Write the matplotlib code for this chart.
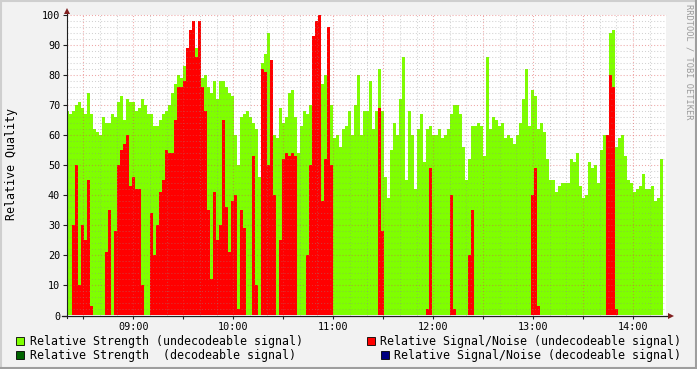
import matplotlib
matplotlib.use('Agg')
import matplotlib.pyplot as plt
from matplotlib.patches import Rectangle

plt.rcParams['font.family'] = 'DejaVu Sans Mono'
plt.rcParams['lines.scale_dashes'] = False

# samples: first one at 08:19:48, one every 1.8 minutes
start_min = 8 * 60 + 19.8
step_min = 1.8

strength = [
    68, 67, 68, 70, 71, 69, 67, 74, 67, 62, 61, 60, 66, 64, 64, 67, 66, 71, 73, 65,
    72, 71, 71, 68, 69, 72, 70, 67, 67, 63, 63, 65, 67, 68, 70, 74, 77, 80, 79, 83,
    85, 88, 89, 89, 88, 79, 80, 76, 74, 78, 72, 78, 78, 76, 74, 73, 60, 50, 66, 67,
    68, 66, 64, 62, 46, 84, 87, 94, 78, 60, 59, 69, 64, 66, 74, 75, 66, 54, 63, 68,
    67, 70, 78, 80, 80, 77, 80, 75, 70, 59, 60, 56, 62, 63, 68, 60, 70, 80, 60, 68,
    68, 78, 62, 68, 82, 68, 46, 39, 55, 64, 60, 72, 86, 45, 68, 60, 42, 62, 67, 51,
    62, 63, 60, 60, 62, 59, 60, 62, 67, 70, 70, 67, 56, 45, 52, 63, 63, 64, 63, 53,
    86, 62, 66, 65, 63, 64, 59, 60, 59, 57, 60, 64, 72, 82, 63, 75, 73, 62, 64, 61,
    52, 45, 45, 41, 43, 44, 44, 44, 52, 51, 54, 43, 39, 40, 51, 49, 50, 44, 55, 60,
    55, 94, 95, 56, 59, 60, 53, 45, 44, 41, 42, 43, 47, 42, 42, 43, 38, 39, 52,
]
snr = [
    0, 0, 30, 50, 10, 30, 25, 45, 3, 0, 0, 0, 0, 21, 35, 0, 28, 50, 55, 57,
    60, 43, 46, 42, 42, 10, 0, 0, 34, 20, 30, 41, 45, 55, 54, 54, 65, 76, 76, 78,
    89, 95, 98, 86, 98, 76, 68, 35, 12, 41, 25, 30, 65, 36, 21, 38, 40, 2, 35, 29,
    0, 0, 53, 10, 0, 82, 81, 50, 85, 40, 0, 25, 52, 54, 53, 54, 53, 0, 0, 0,
    20, 50, 93, 98, 100, 38, 52, 96, 50, 0, 0, 0, 0, 0, 0, 0, 0, 0, 0, 0,
    0, 0, 0, 0, 69, 28, 0, 0, 0, 0, 0, 0, 0, 0, 0, 0, 0, 0, 0, 0,
    2, 49, 0, 0, 0, 0, 0, 0, 40, 2, 0, 0, 0, 0, 20, 35, 0, 0, 0, 0,
    0, 0, 0, 0, 0, 0, 0, 0, 0, 0, 0, 0, 0, 0, 0, 40, 49, 3, 0, 0,
    0, 0, 0, 0, 0, 0, 0, 0, 0, 0, 0, 0, 0, 0, 0, 0, 0, 0, 0, 0,
    60, 80, 76, 2, 0, 0, 0, 0, 0, 0, 0, 0, 0, 0, 0, 0, 0, 0, 0,
]

hour_ticks = [540, 600, 660, 720, 780, 840]
hour_labels = ['09:00', '10:00', '11:00', '12:00', '13:00', '14:00']

legend_left = [('Relative Strength (undecodeable signal)', '#7fff00'),
               ('Relative Strength  (decodeable signal)', '#006400')]
legend_right = [('Relative Signal/Noise (undecodeable signal)', '#ff0000'),
                ('Relative Signal/Noise (decodeable signal)', '#000080')]

W, H = 697, 369
fig = plt.figure(figsize=(W / 100, H / 100), dpi=100, facecolor='#f2f2f2')
ax = fig.add_axes([66.5 / W, 53.5 / H, 599.5 / W, 300.5 / H])
ax.set_facecolor('white')

edges = [start_min + i * step_min for i in range(len(strength) + 1)]
ax.fill_between(edges, strength + strength[-1:], step='post',
                color='#7fff00', lw=0, zorder=1)
ax.fill_between(edges, snr + snr[-1:], step='post',
                color='#ff0000', lw=0, zorder=2)

ax.set_xlim(start_min, start_min + 360)
ax.set_ylim(0, 100)

# rrdtool style dotted grid, drawn over the data
dots = (0, (0.75, 1.45))
minor_kw = dict(color='#8f8f8f', alpha=0.4, lw=0.75, ls=dots, zorder=3)
major_kw = dict(color='#de5050', alpha=0.5, lw=0.75, ls=dots, zorder=3)
for v in range(2, 101, 2):
    if v % 10 == 0:
        ax.axhline(v, clip_on=False, **major_kw)
    else:
        ax.axhline(v, **minor_kw)
for m in range(510, 860, 10):
    if m % 30 == 0:
        ax.axvline(m, **major_kw)
    else:
        ax.axvline(m, **minor_kw)

for s in ax.spines.values():
    s.set_visible(False)

ax.set_yticks(range(0, 101, 10))
ax.tick_params(axis='y', length=3, width=0.8, color='#1f1f1f', labelsize=7.3, pad=1.5)
half_hours = list(range(510, 860, 30))
ax.set_xticks(half_hours)
ax.set_xticklabels([hour_labels[hour_ticks.index(m)] if m in hour_ticks else '' for m in half_hours])
ax.tick_params(axis='x', length=2.5, width=0.8, color='#1f1f1f', labelsize=7.3, pad=2.5)

# overlay in pixel coordinates for axes lines, legend and frame
ov = fig.add_axes([0, 0, 1, 1])
ov.set_xlim(0, W)
ov.set_ylim(H, 0)
ov.axis('off')
ov.patch.set_visible(False)

ov.plot([66.5, 66.5], [318, 11], color='#1f1f1f', lw=0.8)
ov.plot([62, 668], [315.5, 315.5], color='#1f1f1f', lw=0.9)
ov.plot(66.8, 10.5, marker='^', ms=4.5, color='#801f1f', mew=0)
ov.plot(670.5, 315.5, marker='>', ms=4.5, color='#801f1f', mew=0)

ov.text(12, 164, 'Relative Quality', rotation=90, ha='center', va='center', fontsize=8.4)
ov.text(688.5, 4, 'RRDTOOL / TOBI OETIKER', rotation=270, ha='center', va='top',
        fontsize=6.2, color='#9a9a9a')

rows_y = [341, 355]
for (label, col), y in zip(legend_left, rows_y):
    ov.add_patch(Rectangle((16, y - 4.5), 8, 8, fc=col, ec='black', lw=0.6))
    ov.text(30, y, label, ha='left', va='center', fontsize=8.35)
for (label, col), y in zip(legend_right, rows_y):
    ov.text(681, y, label, ha='right', va='center', fontsize=8.35)
    x0 = 681 - len(label) * 6.97
    ov.add_patch(Rectangle((x0 - 14, y - 4.5), 8, 8, fc=col, ec='black', lw=0.6))

# shaded frame
ov.plot([0, W], [1, 1], color='#cfcfcf', lw=1.5)
ov.plot([1, 1], [0, H], color='#cfcfcf', lw=1.5)
ov.plot([0, W], [H - 1, H - 1], color='#9e9e9e', lw=1.5)
ov.plot([W - 1, W - 1], [0, H], color='#9e9e9e', lw=1.5)

fig.savefig('out.png', dpi=100, facecolor=fig.get_facecolor())
